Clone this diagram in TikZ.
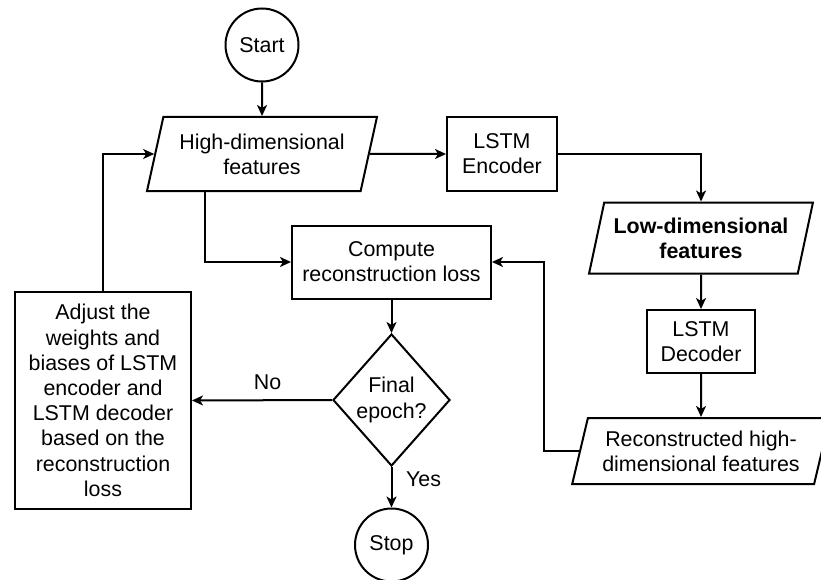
\documentclass[tikz,border=0pt]{standalone}
\usepackage{fontspec}
\setmainfont{Liberation Sans}
\usetikzlibrary{arrows.meta,shapes.geometric}
\newcommand{\flowfont}{\fontsize{21.4}{25.2}\selectfont}
\begin{document}
\begin{tikzpicture}[x=1pt,y=-1pt,
  font=\flowfont,
  base/.style={draw, line width=2pt, align=center, inner sep=0pt},
  proc/.style={base, rectangle},
  term/.style={base, circle, minimum size=73pt},
  io/.style={base, trapezium, trapezium left angle=71.5,
             trapezium right angle=108.5, trapezium stretches=true},
  decide/.style={base, diamond},
  flow/.style={line width=2pt, -{Stealth[length=11pt,width=10pt,inset=3pt]}},
  lbl/.style={inner sep=0pt}
]
\useasboundingbox (0,0) rectangle (821,580);

% nodes
\node[term] (start) at (262,45) {Start};
\node[io, minimum width=230pt, minimum height=74pt] (hi) at (262,154)
  {High-dimensional\\features};
\node[proc, minimum width=110pt, minimum height=74pt] (enc) at (502,154)
  {LSTM\\Encoder};
\node[io, minimum width=224pt, minimum height=71pt,
      font=\flowfont\bfseries] (low) at (701,238)
  {Low-dimensional\\features};
\node[proc, minimum width=108pt, minimum height=63pt] (dec) at (701,341.5)
  {LSTM\\Decoder};
\node[io, minimum width=258pt, minimum height=66pt] (rec) at (701,451)
  {Reconstructed high-\\dimensional features};
\node[proc, minimum width=199pt, minimum height=73pt] (comp) at (391.5,262)
  {Compute\\reconstruction loss};
\node[decide, minimum width=117pt, minimum height=132pt] (dia) at (391.5,400)
  {Final\\epoch?};
\node[proc, minimum width=176pt, minimum height=217pt] (adj) at (103,400.5)
  {Adjust the\\weights and\\biases of LSTM\\encoder and\\LSTM decoder\\based on the\\reconstruction\\loss};
\node[term] (stop) at (391.5,545) {Stop};

% bend points
\coordinate (hisplit) at (205,262);
\coordinate (recloop) at (544,262);

% connectors
\draw[flow] (start) -- (hi.north);
\draw[flow] (hi.east) -- (enc.west);
\draw[flow] (enc.east) -| (low.north);
\draw[flow] (low.south) -- (dec.north);
\draw[flow] (dec.south) -- (rec.north);
\draw[flow] (rec.west) -| (recloop) -- (comp.east);
\draw[flow] (hi.south -| hisplit) -- (hisplit) -- (comp.west);
\draw[flow] (comp.south) -- (dia.north);
\draw[flow] (dia.west) -- (adj.east)
  node[lbl, pos=0.46, yshift=18pt] {No};
\draw[flow] (dia.south) -- (stop.north)
  node[lbl, pos=0.29, xshift=32pt] {Yes};
\draw[flow] (adj.north) |- (hi.west);
\end{tikzpicture}
\end{document}
